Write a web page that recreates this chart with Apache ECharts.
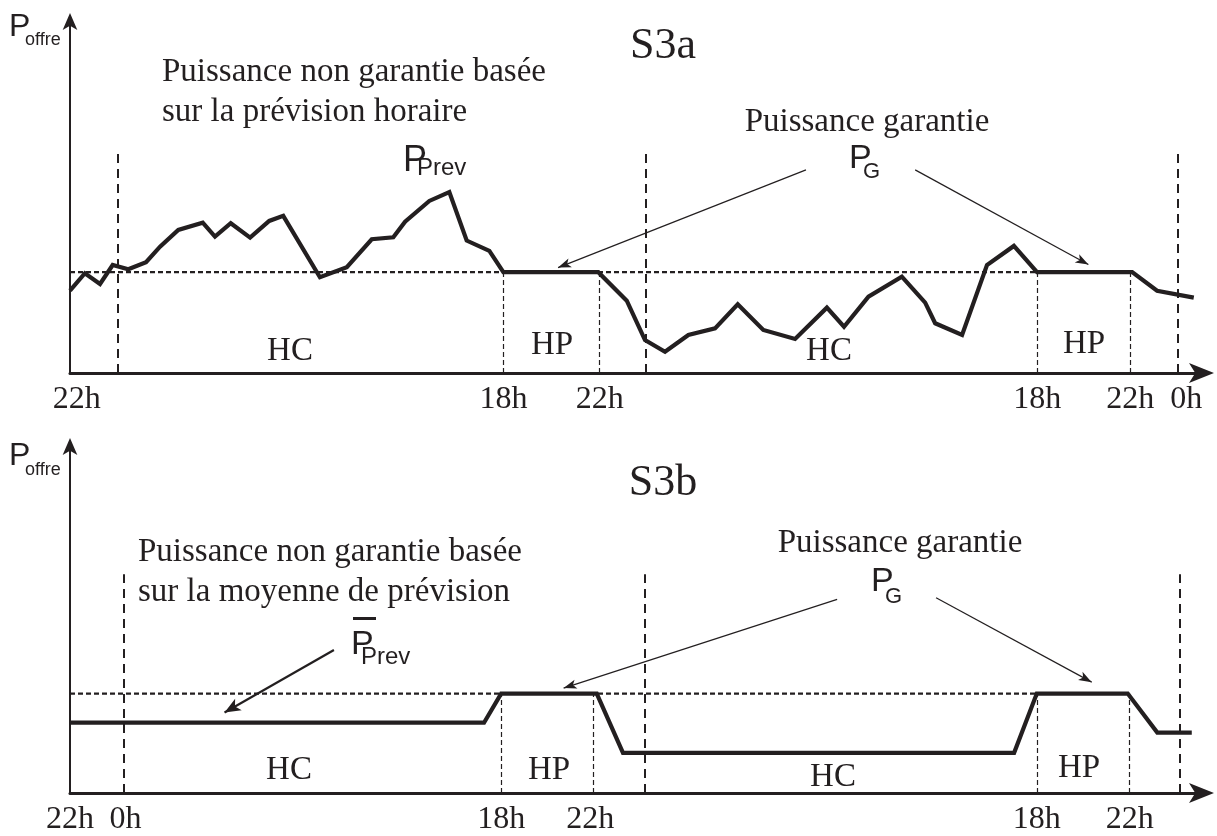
<!DOCTYPE html>
<html>
<head>
<meta charset="utf-8">
<script src="https://cdn.jsdelivr.net/npm/echarts@6/dist/echarts.min.js"></script>
<style>html,body{margin:0;padding:0;background:#fff}#c{width:1217px;height:836px}</style>
</head>
<body>
<div id="c"></div>
<script>
// ---- data (schematic time units along x, power units along y) ----
const topTime = [0, 0.67, 1.35, 1.92, 2.62, 3.42, 4.05, 4.87, 5.97, 6.52, 7.23, 8.10, 8.96, 9.59, 11.24, 12.45, 13.57, 14.54, 15.07, 16.16, 17.06, 17.84, 18.86, 19.49, 23.76, 25.04, 25.86, 26.76, 27.81, 29.01, 30.03, 31.18, 32.61, 34.04, 34.81, 35.91, 37.41, 38.46, 38.91, 40.12, 41.24, 42.45, 43.49, 47.77, 48.89, 50.54];
const topPower = [8.16, 9.89, 8.83, 10.71, 10.29, 10.98, 12.53, 14.19, 14.91, 13.52, 14.85, 13.42, 15.08, 15.58, 9.49, 10.49, 13.26, 13.46, 15.01, 17.06, 17.93, 13.13, 12.10, 10, 10, 7.17, 3.27, 2.11, 3.77, 4.43, 6.82, 4.27, 3.37, 6.48, 4.59, 7.57, 9.55, 6.97, 4.93, 3.77, 10.71, 12.6, 10, 10, 8.16, 7.47];
const botTime = [0, 18.62, 19.39, 23.69, 24.87, 42.46, 43.48, 47.57, 48.9, 50.45];
const botPower = [7.07, 7.07, 10, 10, 4.04, 4.04, 10, 10, 6.08, 6.08];
const guaranteedLevel = 10;
const guaranteedEnd = [47.7, 47.6];
const topLabelValues = [0.3, 19.5, 23.82, 43.5, 47.68, 50.2];
const topLabels = ['22h', '18h', '22h', '18h', '22h', '0h'];
const botLabelValues = [0, 2.5, 19.39, 23.4, 43.48, 47.66];
const botLabels = ['22h', '0h', '18h', '22h', '18h', '22h'];
const topDayLines = [2.15, 25.9, 49.84];
const topPeakLines = [19.5, 23.82, 43.5, 47.68];
const botDayLines = [2.4, 25.83, 49.93];
const botPeakLines = [19.39, 23.52, 43.48, 47.66];
const dayLineTop = 22;
// arrows [fromX, fromY, toX, toY]
const topArrows = [[33.10, 20.14, 21.95, 10.45], [38.01, 20.14, 45.8, 10.75]];
const botArrows = [[34.5, 19.47, 22.2, 10.55], [38.95, 19.64, 45.95, 11.15]];
const meanArrow = [11.87, 14.38, 6.95, 8.1];

const ink = '#231f20';
const serif = '"Liberation Serif", "Times New Roman", serif';
const sans = '"Liberation Sans", Arial, sans-serif';

function zip(a, b) { return a.map((v, i) => [v, b[i]]); }

function mkX(g, vals, labels) {
  return {
    type: 'value', gridIndex: g, min: 0, max: 51,
    splitLine: { show: false }, axisTick: { show: false },
    axisLine: { show: true, onZero: false, symbol: ['none', 'arrow'], symbolSize: [15, 25], symbolOffset: [0, 10], lineStyle: { color: ink, width: 3 } },
    axisLabel: {
      show: true, customValues: vals, margin: 11,
      color: ink, fontFamily: serif, fontSize: 32,
      formatter: function (v) {
        let best = 0, d = Infinity;
        vals.forEach((x, i) => { if (Math.abs(x - v) < d) { d = Math.abs(x - v); best = i; } });
        return labels[best];
      }
    }
  };
}
function mkY(g) {
  return {
    type: 'value', gridIndex: g, min: 0, max: 35,
    splitLine: { show: false }, axisTick: { show: false }, axisLabel: { show: false },
    axisLine: { show: true, onZero: false, symbol: ['none', 'arrow'], symbolSize: [11, 17], symbolOffset: [0, 7], lineStyle: { color: ink, width: 2 } }
  };
}
function marks(dayLines, peakLines, arrows, extra) {
  const d = [];
  dayLines.forEach(x => d.push([{ coord: [x, 0], symbol: 'none', lineStyle: { type: [9, 6], width: 2, color: ink } }, { coord: [x, dayLineTop], symbol: 'none' }]));
  peakLines.forEach(x => d.push([{ coord: [x, 0], symbol: 'none', lineStyle: { type: [5, 3], width: 1.2, color: ink } }, { coord: [x, guaranteedLevel], symbol: 'none' }]));
  arrows.forEach(a => d.push([{ coord: [a[0], a[1]], symbol: 'none', lineStyle: { type: 'solid', width: 1.2, color: ink } }, { coord: [a[2], a[3]], symbol: 'arrow', symbolSize: [7, 13] }]));
  if (extra) d.push([{ coord: [extra[0], extra[1]], symbol: 'none', lineStyle: { type: 'solid', width: 2.2, color: ink } }, { coord: [extra[2], extra[3]], symbol: 'arrow', symbolSize: [10, 16] }]);
  return { silent: true, symbol: ['none', 'none'], label: { show: false }, emphasis: { disabled: true }, animation: false, data: d };
}
function refLine(g, end, ml) {
  return {
    type: 'line', xAxisIndex: g, yAxisIndex: g, symbol: 'none', silent: true, z: 2,
    data: [[0, guaranteedLevel], [end, guaranteedLevel]],
    lineStyle: { type: [5, 3], width: 2.2, color: ink }, markLine: ml
  };
}
function curve(g, xs, ys) {
  return {
    type: 'line', xAxisIndex: g, yAxisIndex: g, symbol: 'none', silent: true, z: 5,
    data: zip(xs, ys), lineStyle: { width: 4.2, color: ink, join: 'miter' }
  };
}
function txt(t, x, y, size, fam, align) {
  return { type: 'text', x: x, y: y, silent: true, z: 100,
    style: { text: t, font: size + 'px ' + fam, fill: ink, align: align || 'left', verticalAlign: 'middle', textAlign: align || 'left', textVerticalAlign: 'middle' } };
}

const graphics = [
  // top panel
  txt('P', 9, 27, 32, sans), txt('offre', 25, 40, 18, sans),
  txt('S3a', 663, 46, 44, serif, 'center'),
  txt('Puissance non garantie basée', 162, 72, 33, serif),
  txt('sur la prévision horaire', 162, 112, 33, serif),
  txt('P', 403, 161, 36, sans), txt('Prev', 417, 168, 24, sans),
  txt('Puissance garantie', 867, 122, 33, serif, 'center'),
  txt('P', 849, 159, 34, sans), txt('G', 863, 172, 22, sans),
  txt('HC', 290, 351, 33, serif, 'center'), txt('HP', 552, 345, 33, serif, 'center'),
  txt('HC', 829, 351, 33, serif, 'center'), txt('HP', 1084, 344, 33, serif, 'center'),
  // bottom panel
  txt('P', 9, 456, 32, sans), txt('offre', 25, 470, 18, sans),
  txt('S3b', 663, 483, 44, serif, 'center'),
  txt('Puissance non garantie basée', 138, 552, 33, serif),
  txt('sur la moyenne de prévision', 138, 592, 33, serif),
  txt('P', 351, 645, 34, sans), txt('Prev', 361, 657, 24, sans),
  { type: 'rect', silent: true, z: 100, shape: { x: 353, y: 617, width: 23, height: 3 }, style: { fill: ink } },
  txt('Puissance garantie', 900, 543, 33, serif, 'center'),
  txt('P', 871, 582, 34, sans), txt('G', 885, 597, 22, sans),
  txt('HC', 289, 770, 33, serif, 'center'), txt('HP', 549, 770, 33, serif, 'center'),
  txt('HC', 833, 777, 33, serif, 'center'), txt('HP', 1079, 768, 33, serif, 'center')
];

const chart = echarts.init(document.getElementById('c'), null, { renderer: 'canvas' });
chart.setOption({
  animation: false,
  backgroundColor: '#fff',
  grid: [
    { left: 70, top: 20, width: 1134, height: 353 },
    { left: 70, top: 445, width: 1134, height: 353 }
  ],
  xAxis: [mkX(0, topLabelValues, topLabels), mkX(1, botLabelValues, botLabels)],
  yAxis: [mkY(0), mkY(1)],
  series: [
    refLine(0, guaranteedEnd[0], marks(topDayLines, topPeakLines, topArrows)),
    curve(0, topTime, topPower),
    refLine(1, guaranteedEnd[1], marks(botDayLines, botPeakLines, botArrows, meanArrow)),
    curve(1, botTime, botPower)
  ],
  graphic: graphics
});
</script>
</body>
</html>
